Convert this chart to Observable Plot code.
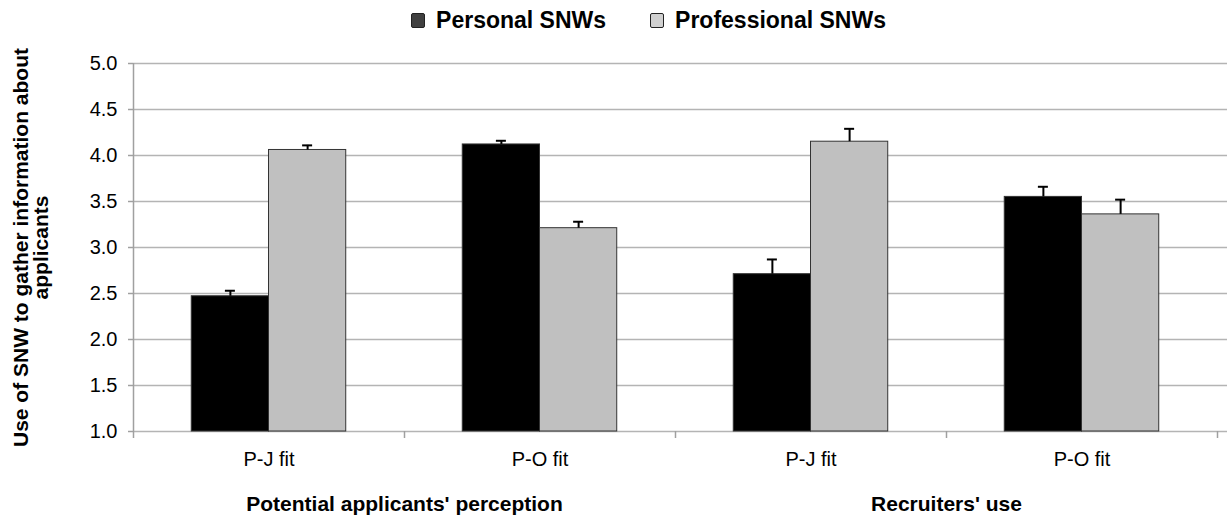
<!DOCTYPE html>
<html>
<head>
<meta charset="utf-8">
<script src="https://cdn.jsdelivr.net/npm/d3@7"></script>
<script src="https://cdn.jsdelivr.net/npm/@observablehq/plot@0.6"></script>
<style>
  body { margin: 0; background: #fff; font-family: "Liberation Sans", Arial, sans-serif; position: relative; }
  #legend { position: absolute; top: 0; left: 0; width: 1227px; height: 40px; display: flex; justify-content: center; align-items: center; gap: 44px; font-size: 23px; font-weight: bold; color: #000; padding-left: 70px; box-sizing: border-box; z-index: 2; }
  .item { display: flex; align-items: center; gap: 11px; }
  .sw { width: 12px; height: 13px; border: 1px solid #222; border-radius: 2px; }
</style>
</head>
<body>
<div id="legend"></div>
<div id="chart"></div>
<script>
const series = ["Personal SNWs", "Professional SNWs"];
const seriesColors = ["#000000", "#c0c0c0"];
const legendColors = ["#404040", "#d0d0d0"];
const categories = ["P-J fit", "P-O fit", "P-J fit", "P-O fit"];
const groups = ["Potential applicants' perception", "Recruiters' use"];
const personal = [2.47, 4.12, 2.71, 3.55];
const personalErr = [0.06, 0.04, 0.16, 0.11];
const professional = [4.06, 3.21, 4.15, 3.36];
const professionalErr = [0.05, 0.07, 0.14, 0.16];
const yTicks = [1.0, 1.5, 2.0, 2.5, 3.0, 3.5, 4.0, 4.5, 5.0];
const yTitle = ["Use of SNW to gather information about", "applicants"];

// legend
const leg = document.getElementById("legend");
series.forEach((s, i) => {
  const it = document.createElement("div");
  it.className = "item";
  it.innerHTML = `<span class="sw" style="background:${legendColors[i]}"></span><span>${s}</span>`;
  leg.appendChild(it);
});

const bars = [];
categories.forEach((c, i) => {
  bars.push({i, s: 0, lo: i + 0.215, hi: i + 0.5, v: personal[i], e: personalErr[i]});
  bars.push({i, s: 1, lo: i + 0.5, hi: i + 0.785, v: professional[i], e: professionalErr[i]});
});
bars.forEach(b => b.c = (b.lo + b.hi) / 2);

const cats = categories.map((c, i) => ({c, x: i + 0.5}));
const grps = groups.map((g, i) => ({g, x: i * 2 + 1}));

const plot = Plot.plot({
  width: 1227,
  height: 517,
  marginLeft: 133,
  marginRight: 10,
  marginTop: 63,
  marginBottom: 86,
  style: {fontFamily: "'Liberation Sans', Arial, sans-serif", fontSize: "19px", color: "#000", background: "#fff"},
  x: {domain: [0, 4], axis: null},
  y: {domain: [1, 5], axis: null},
  marks: [
    Plot.ruleY(yTicks, {stroke: "#b4b4b4", strokeWidth: 1.5, insetRight: -10}),
    Plot.ruleX([0], {stroke: "#a0a0a0", strokeWidth: 1.5}),
    Plot.ruleY(yTicks, {x1: 0, x2: 0, stroke: "#a0a0a0", strokeWidth: 1.5, insetLeft: -5}),
    Plot.text(yTicks, {x: 0, y: d => d, text: d => d.toFixed(1), textAnchor: "end", dx: -16, fontSize: 20}),
    Plot.ruleX([0, 1, 2, 3, 4], {y1: 1, y2: 1, insetBottom: -7, stroke: "#a0a0a0", strokeWidth: 1.5}),
    Plot.rectY(bars, {x1: "lo", x2: "hi", y1: 1, y2: "v", fill: d => seriesColors[d.s], stroke: "#333", strokeWidth: 1}),
    Plot.ruleX(bars, {x: "c", y1: "v", y2: d => d.v + d.e, stroke: "#000", strokeWidth: 2}),
    Plot.ruleY(bars, {x1: "c", x2: "c", y: d => d.v + d.e, insetLeft: -5, insetRight: -5, stroke: "#000", strokeWidth: 2}),
    Plot.text(cats, {x: "x", y: 1, text: "c", dy: 28, fontSize: 20}),
    Plot.text(grps, {x: "x", y: 1, text: "g", dy: 73, fontSize: 21, fontWeight: "bold"}),
    Plot.text([yTitle.join("\n")], {frameAnchor: "left", textAnchor: "middle", dx: -102, rotate: -90, fontSize: 21, fontWeight: "bold", lineHeight: 0.95})
  ]
});
document.getElementById("chart").appendChild(plot);
</script>
</body>
</html>
